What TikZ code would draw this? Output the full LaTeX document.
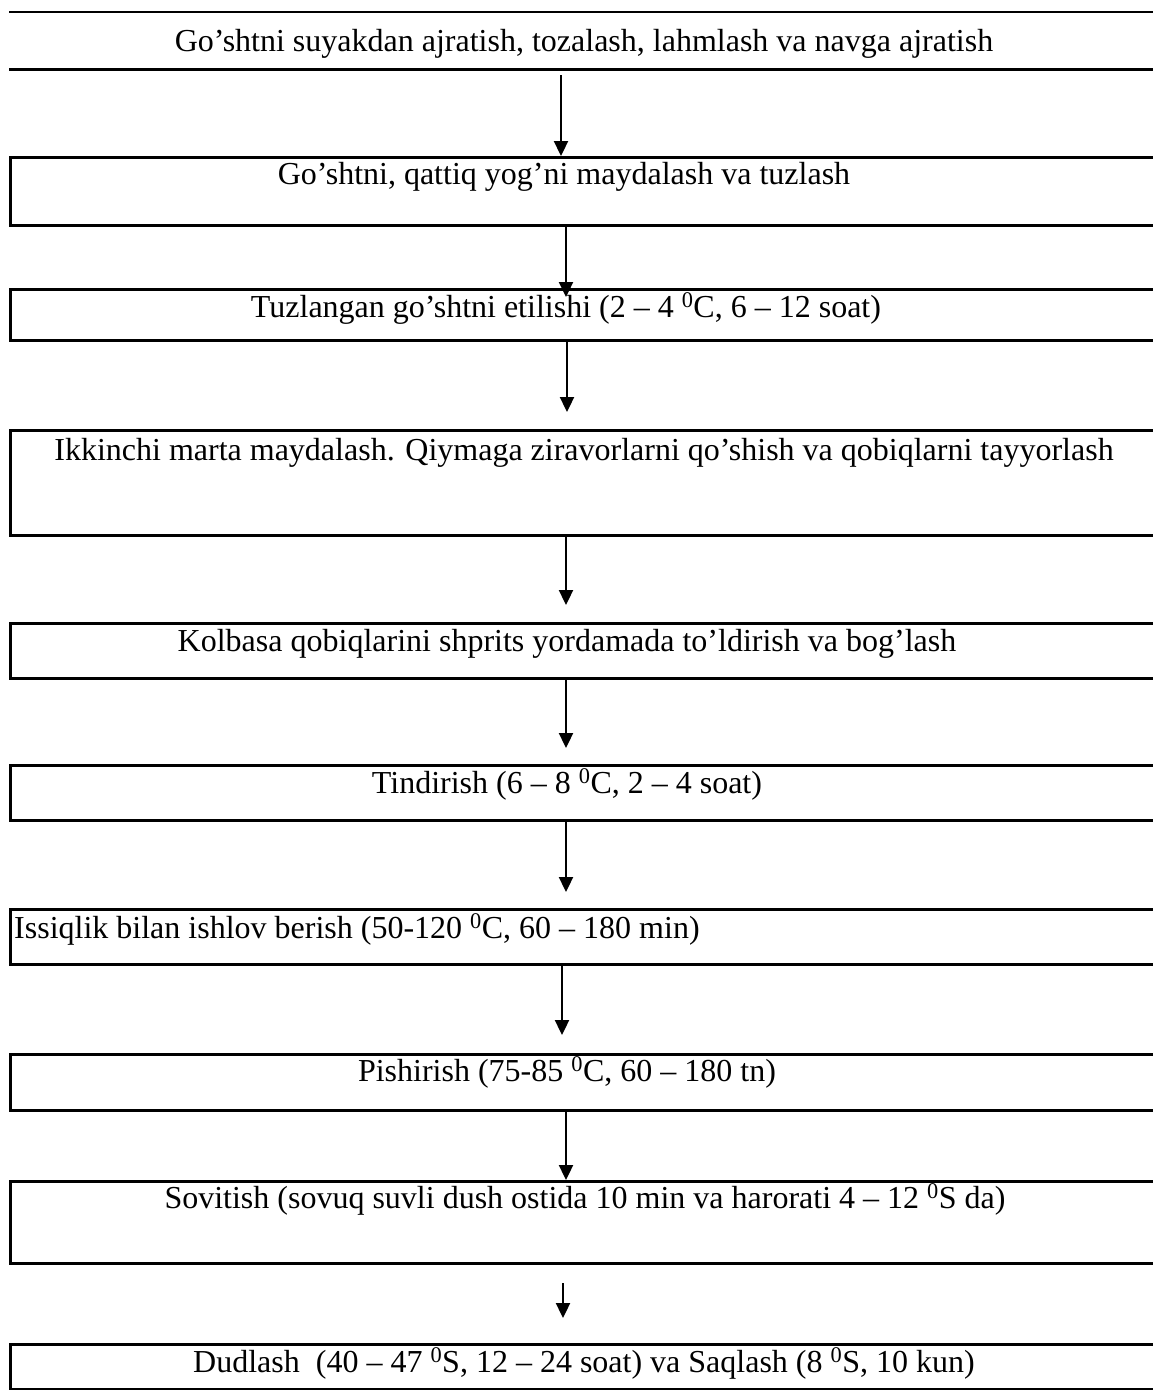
\documentclass[tikz,border=0pt]{standalone}
\usepackage{fontspec}
\setmainfont{Liberation Serif}
\usetikzlibrary{arrows.meta}
\begin{document}
\begin{tikzpicture}[x=1pt,y=-1pt,
  boxline/.style={line width=2.8pt},
  stepbox/.style={draw, line width=2.8pt, rectangle, inner sep=0pt, anchor=north west, minimum width=1161pt},
  blank/.style={rectangle, inner sep=0pt, anchor=north west, minimum width=1161pt},
  steptext/.style={anchor=base, inner sep=0pt, font=\fontsize{32}{38}\selectfont},
  flow/.style={line width=2.3pt, -{Triangle[width=14pt,length=15pt]}}]
\clip (0,0) rectangle (1153,1390);
\fill[white] (0,0) rectangle (1153,1390);
% boxes
\node[blank, minimum height=57pt] (b1) at (9,12) {};
\draw[boxline] (b1.north west) -- (b1.north east);
\draw[boxline] (b1.south west) -- (b1.south east);
\node[stepbox, minimum height=68pt] (b2) at (9,156) {};
\node[stepbox, minimum height=51pt] (b3) at (9,288) {};
\node[stepbox, minimum height=105pt] (b4) at (9,429) {};
\node[stepbox, minimum height=55pt] (b5) at (9,622) {};
\node[stepbox, minimum height=55pt] (b6) at (9,764) {};
\node[stepbox, minimum height=55pt] (b7) at (9,908) {};
\node[stepbox, minimum height=56pt] (b8) at (9,1053) {};
\node[stepbox, minimum height=82pt] (b9) at (9,1180) {};
\node[stepbox, minimum height=45pt] (b10) at (9,1343) {};
% texts
\node[steptext] (t1) at (584,51) {Go’shtni suyakdan ajratish, tozalash, lahmlash va navga ajratish};
\node[steptext] (t2) at (564,184) {Go’shtni, qattiq yog’ni maydalash va tuzlash};
\node[steptext] (t3) at (566,317) {Tuzlangan go’shtni etilishi (2 – 4 \textsuperscript{0}C, 6 – 12 soat)};
\node[steptext] (t4) at (584,460) {Ikkinchi marta maydalash. Qiymaga ziravorlarni qo’shish va qobiqlarni tayyorlash};
\node[steptext] (t5) at (567,651) {Kolbasa qobiqlarini shprits yordamada to’ldirish va bog’lash};
\node[steptext] (t6) at (567,793) {Tindirish (6 – 8 \textsuperscript{0}C, 2 – 4 soat)};
\node[steptext, anchor=base west] (t7) at (14,938) {Issiqlik bilan ishlov berish (50-120 \textsuperscript{0}C, 60 – 180 min)};
\node[steptext] (t8) at (567,1081) {Pishirish (75-85 \textsuperscript{0}C, 60 – 180 tn)};
\node[steptext] (t9) at (585,1208) {Sovitish (sovuq suvli dush ostida 10 min va harorati 4 – 12 \textsuperscript{0}S da)};
\node[steptext] (t10) at (584,1372) {Dudlash\ \ (40 – 47 \textsuperscript{0}S, 12 – 24 soat) va Saqlash (8 \textsuperscript{0}S, 10 kun)};
% arrow columns
\coordinate (xa) at (561,0);
\coordinate (xb) at (566,0);
\coordinate (xc) at (567,0);
\coordinate (xd) at (562,0);
\coordinate (xe) at (563,0);
\coordinate (a1s) at (561,75);
\coordinate (a2e) at (566,297);
\coordinate (a3e) at (567,412);
\coordinate (a4e) at (566,605);
\coordinate (a5e) at (566,748);
\coordinate (a6e) at (566,892);
\coordinate (a7e) at (562,1035);
\coordinate (a9s) at (563,1283);
\coordinate (a9e) at (563,1318);
% connectors
\draw[flow] (a1s) -- (b2.north -| xa);
\draw[flow] (b2.south -| xb) -- (a2e);
\draw[flow] (b3.south -| xc) -- (a3e);
\draw[flow] (b4.south -| xb) -- (a4e);
\draw[flow] (b5.south -| xb) -- (a5e);
\draw[flow] (b6.south -| xb) -- (a6e);
\draw[flow] (b7.south -| xd) -- (a7e);
\draw[flow] (b8.south -| xb) -- (b9.north -| xb);
\draw[flow] (a9s) -- (a9e);
\end{tikzpicture}
\end{document}
